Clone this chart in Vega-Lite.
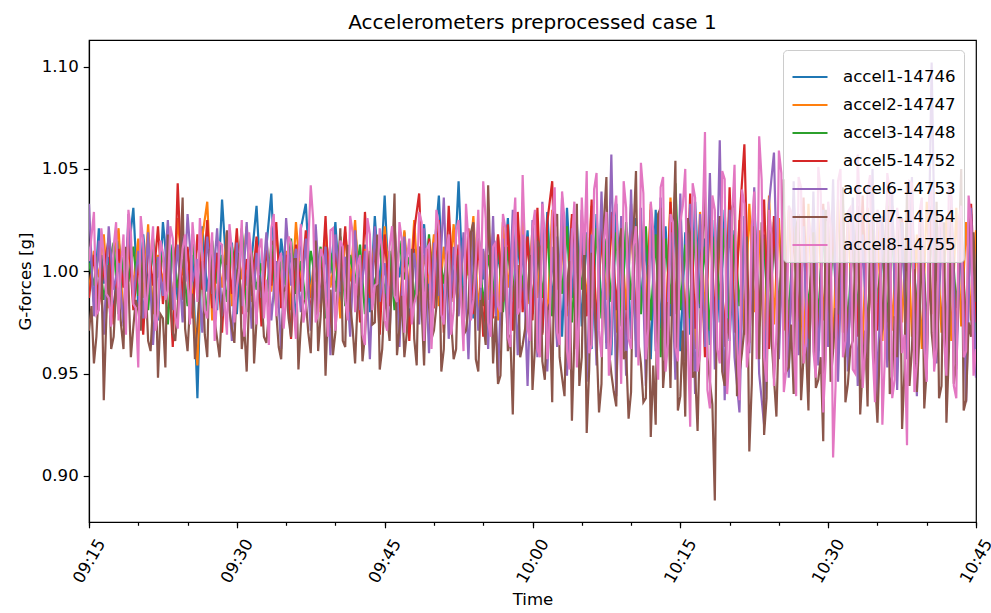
{
"$schema": "https://vega.github.io/schema/vega-lite/v6.json",
"width": 887, "height": 482,
"autosize": {"type": "none"},
"padding": {"left": 89, "top": 40, "right": 15, "bottom": 91},
"background": "white",
"title": {"text": "Accelerometers preprocessed case 1", "font": "DejaVu Sans", "fontSize": 20, "fontWeight": "normal", "color": "black", "offset": 7},
"config": {"view": {"stroke": "black", "strokeWidth": 1.2}, "font": "DejaVu Sans"},
"datasets": {
"main": [
{"t":"2024-01-01T09:15:00","a":1.012,"b":0.991,"c":1.004,"d":0.987,"e":1.033,"f":0.971,"g":1.005},
{"t":"2024-01-01T09:15:30","a":0.985,"b":1.010,"c":0.993,"d":1.008,"e":0.978,"f":0.955,"g":1.029},
{"t":"2024-01-01T09:16:00","a":1.021,"b":0.997,"c":1.011,"d":0.983,"e":1.015,"f":0.992,"g":0.981},
{"t":"2024-01-01T09:16:30","a":0.994,"b":1.018,"c":0.986,"d":1.001,"e":0.969,"f":0.937,"g":1.008},
{"t":"2024-01-01T09:17:00","a":1.007,"b":0.982,"c":1.002,"d":1.016,"e":1.022,"f":1.003,"g":0.987},
{"t":"2024-01-01T09:17:30","a":0.978,"b":1.006,"c":1.014,"d":0.974,"e":0.991,"f":0.968,"g":1.012},
{"t":"2024-01-01T09:18:00","a":1.015,"b":1.021,"c":0.979,"d":1.011,"e":1.004,"f":0.989,"g":0.976},
{"t":"2024-01-01T09:18:30","a":0.997,"b":0.975,"c":1.007,"d":0.992,"e":0.973,"f":0.962,"g":1.018},
{"t":"2024-01-01T09:19:00","a":1.009,"b":1.012,"c":0.995,"d":1.019,"e":1.028,"f":0.995,"g":1.030},
{"t":"2024-01-01T09:19:30","a":1.031,"b":0.993,"c":1.012,"d":0.981,"e":0.986,"f":0.973,"g":0.984},
{"t":"2024-01-01T09:20:00","a":0.983,"b":1.016,"c":0.988,"d":1.005,"e":1.010,"f":0.981,"g":0.953},
{"t":"2024-01-01T09:20:30","a":1.018,"b":0.987,"c":1.005,"d":0.969,"e":0.977,"f":1.012,"g":1.014},
{"t":"2024-01-01T09:21:00","a":0.992,"b":1.023,"c":0.981,"d":1.014,"e":1.019,"f":0.966,"g":0.993},
{"t":"2024-01-01T09:21:30","a":1.010,"b":0.979,"c":1.016,"d":0.993,"e":0.964,"f":0.985,"g":1.022},
{"t":"2024-01-01T09:22:00","a":0.976,"b":1.008,"c":0.997,"d":1.022,"e":1.007,"f":0.948,"g":0.979},
{"t":"2024-01-01T09:22:30","a":1.024,"b":0.995,"c":1.009,"d":0.984,"e":0.988,"f":0.977,"g":1.009},
{"t":"2024-01-01T09:23:00","a":0.999,"b":1.014,"c":0.974,"d":1.010,"e":1.025,"f":1.018,"g":0.991},
{"t":"2024-01-01T09:23:30","a":1.013,"b":0.984,"c":1.013,"d":0.963,"e":0.981,"f":0.970,"g":1.016},
{"t":"2024-01-01T09:24:00","a":0.986,"b":1.026,"c":0.992,"d":1.043,"e":1.013,"f":0.983,"g":0.972},
{"t":"2024-01-01T09:24:30","a":1.017,"b":0.998,"c":1.006,"d":0.986,"e":0.975,"f":1.036,"g":1.011},
{"t":"2024-01-01T09:25:00","a":0.995,"b":1.011,"c":0.983,"d":1.012,"e":1.028,"f":0.961,"g":0.995},
{"t":"2024-01-01T09:25:30","a":1.008,"b":0.988,"c":1.018,"d":0.977,"e":0.995,"f":0.989,"g":1.024},
{"t":"2024-01-01T09:26:00","a":0.938,"b":0.954,"c":0.989,"d":1.018,"e":1.006,"f":0.974,"g":0.985},
{"t":"2024-01-01T09:26:30","a":1.022,"b":1.017,"c":1.003,"d":0.991,"e":0.970,"f":1.005,"g":1.006},
{"t":"2024-01-01T09:27:00","a":0.990,"b":1.034,"c":0.978,"d":1.025,"e":1.017,"f":0.958,"g":0.977},
{"t":"2024-01-01T09:27:30","a":1.011,"b":0.976,"c":1.015,"d":0.982,"e":0.989,"f":0.992,"g":1.019},
{"t":"2024-01-01T09:28:00","a":0.981,"b":1.009,"c":0.994,"d":1.009,"e":1.021,"f":0.967,"g":0.988},
{"t":"2024-01-01T09:28:30","a":1.035,"b":0.992,"c":1.008,"d":0.970,"e":0.978,"f":0.984,"g":1.013},
{"t":"2024-01-01T09:29:00","a":0.997,"b":1.019,"c":0.985,"d":1.015,"e":1.003,"f":1.020,"g":0.969},
{"t":"2024-01-01T09:29:30","a":1.014,"b":0.983,"c":1.012,"d":0.989,"e":0.966,"f":0.972,"g":1.010},
{"t":"2024-01-01T09:30:00","a":0.979,"b":1.013,"c":0.996,"d":1.021,"e":1.014,"f":0.995,"g":0.992},
{"t":"2024-01-01T09:30:30","a":1.019,"b":0.996,"c":1.021,"d":0.979,"e":0.983,"f":0.962,"g":1.025},
{"t":"2024-01-01T09:31:00","a":0.993,"b":1.022,"c":0.980,"d":1.006,"e":1.024,"f":0.951,"g":0.983},
{"t":"2024-01-01T09:31:30","a":1.006,"b":0.985,"c":1.010,"d":0.988,"e":0.972,"f":1.009,"g":1.007},
{"t":"2024-01-01T09:32:00","a":1.032,"b":1.007,"c":0.991,"d":1.017,"e":1.009,"f":0.976,"g":0.974},
{"t":"2024-01-01T09:32:30","a":0.987,"b":0.979,"c":1.004,"d":0.973,"e":0.987,"f":0.990,"g":1.016},
{"t":"2024-01-01T09:33:00","a":1.012,"b":1.015,"c":0.987,"d":1.011,"e":1.019,"f":0.965,"g":0.996},
{"t":"2024-01-01T09:33:30","a":1.038,"b":0.990,"c":1.013,"d":0.993,"e":0.976,"f":1.013,"g":1.021},
{"t":"2024-01-01T09:34:00","a":0.984,"b":1.020,"c":0.982,"d":1.024,"e":1.005,"f":0.980,"g":0.978},
{"t":"2024-01-01T09:34:30","a":1.016,"b":0.986,"c":1.007,"d":0.982,"e":0.962,"f":0.957,"g":1.009},
{"t":"2024-01-01T09:35:00","a":0.996,"b":1.010,"c":0.993,"d":1.008,"e":1.026,"f":0.993,"g":0.987},
{"t":"2024-01-01T09:35:30","a":1.009,"b":0.981,"c":1.016,"d":0.967,"e":0.993,"f":0.968,"g":1.014},
{"t":"2024-01-01T09:36:00","a":0.975,"b":1.024,"c":0.989,"d":1.013,"e":1.011,"f":1.006,"g":0.967},
{"t":"2024-01-01T09:36:30","a":1.021,"b":0.994,"c":1.005,"d":0.990,"e":0.980,"f":0.974,"g":1.023},
{"t":"2024-01-01T09:37:00","a":1.033,"b":1.012,"c":0.984,"d":1.020,"e":1.016,"f":0.986,"g":0.982},
{"t":"2024-01-01T09:37:30","a":0.988,"b":0.987,"c":1.010,"d":0.976,"e":0.971,"f":0.960,"g":1.042},
{"t":"2024-01-01T09:38:00","a":1.010,"b":1.016,"c":0.995,"d":1.014,"e":1.023,"f":1.015,"g":0.975},
{"t":"2024-01-01T09:38:30","a":0.982,"b":0.980,"c":1.012,"d":0.985,"e":0.984,"f":0.978,"g":1.011},
{"t":"2024-01-01T09:39:00","a":1.017,"b":1.021,"c":0.977,"d":1.027,"e":1.012,"f":0.949,"g":0.990},
{"t":"2024-01-01T09:39:30","a":0.999,"b":0.992,"c":1.009,"d":0.972,"e":0.959,"f":0.991,"g":1.020},
{"t":"2024-01-01T09:40:00","a":1.024,"b":1.009,"c":0.990,"d":1.010,"e":1.018,"f":0.970,"g":0.971},
{"t":"2024-01-01T09:40:30","a":0.985,"b":0.977,"c":1.017,"d":0.994,"e":0.990,"f":1.021,"g":1.015},
{"t":"2024-01-01T09:41:00","a":1.007,"b":1.019,"c":0.983,"d":1.022,"e":1.007,"f":0.963,"g":0.986},
{"t":"2024-01-01T09:41:30","a":0.978,"b":0.995,"c":1.008,"d":0.980,"e":0.968,"f":0.984,"g":1.027},
{"t":"2024-01-01T09:42:00","a":1.020,"b":1.025,"c":0.994,"d":1.016,"e":1.020,"f":0.955,"g":0.980},
{"t":"2024-01-01T09:42:30","a":0.994,"b":0.984,"c":1.013,"d":0.975,"e":0.981,"f":0.997,"g":1.008},
{"t":"2024-01-01T09:43:00","a":1.013,"b":1.011,"c":0.979,"d":1.029,"e":1.010,"f":0.969,"g":0.964},
{"t":"2024-01-01T09:43:30","a":0.980,"b":0.989,"c":1.006,"d":0.987,"e":0.957,"f":1.010,"g":1.018},
{"t":"2024-01-01T09:44:00","a":1.027,"b":1.017,"c":0.992,"d":1.012,"e":1.022,"f":0.975,"g":0.993},
{"t":"2024-01-01T09:44:30","a":0.991,"b":0.978,"c":1.014,"d":0.969,"e":0.985,"f":0.952,"g":1.021},
{"t":"2024-01-01T09:45:00","a":1.037,"b":1.022,"c":0.988,"d":1.018,"e":1.004,"f":0.989,"g":0.976},
{"t":"2024-01-01T09:45:30","a":0.983,"b":0.993,"c":1.010,"d":0.983,"e":0.970,"f":0.966,"g":1.012},
{"t":"2024-01-01T09:46:00","a":1.015,"b":1.014,"c":0.981,"d":1.023,"e":1.025,"f":1.038,"g":0.988},
{"t":"2024-01-01T09:46:30","a":0.997,"b":0.976,"c":1.015,"d":0.977,"e":0.963,"f":0.972,"g":1.024},
{"t":"2024-01-01T09:47:00","a":1.019,"b":1.020,"c":0.996,"d":1.011,"e":1.017,"f":0.958,"g":0.970},
{"t":"2024-01-01T09:47:30","a":0.972,"b":0.988,"c":1.007,"d":0.966,"e":0.982,"f":0.995,"g":1.016},
{"t":"2024-01-01T09:48:00","a":1.011,"b":1.025,"c":0.985,"d":1.020,"e":1.009,"f":0.967,"g":0.984},
{"t":"2024-01-01T09:48:30","a":0.990,"b":0.982,"c":1.012,"d":1.038,"e":0.974,"f":1.012,"g":1.029},
{"t":"2024-01-01T09:49:00","a":1.023,"b":1.008,"c":0.990,"d":0.976,"e":1.021,"f":0.954,"g":0.966},
{"t":"2024-01-01T09:49:30","a":0.986,"b":0.994,"c":1.018,"d":1.016,"e":0.960,"f":0.983,"g":1.013},
{"t":"2024-01-01T09:50:00","a":1.008,"b":1.018,"c":0.982,"d":0.982,"e":1.014,"f":0.971,"g":0.991},
{"t":"2024-01-01T09:50:30","a":1.037,"b":0.983,"c":1.009,"d":1.025,"e":0.988,"f":1.017,"g":1.022},
{"t":"2024-01-01T09:51:00","a":0.979,"b":1.012,"c":0.994,"d":0.970,"e":1.036,"f":0.962,"g":0.974},
{"t":"2024-01-01T09:51:30","a":1.016,"b":0.991,"c":1.016,"d":1.032,"e":0.967,"f":0.990,"g":1.018},
{"t":"2024-01-01T09:52:00","a":0.993,"b":1.023,"c":0.987,"d":0.985,"e":1.012,"f":0.957,"g":0.981},
{"t":"2024-01-01T09:52:30","a":1.044,"b":0.979,"c":1.011,"d":1.013,"e":0.978,"f":1.008,"g":1.025},
{"t":"2024-01-01T09:53:00","a":0.984,"b":1.016,"c":0.978,"d":0.972,"e":1.019,"f":0.969,"g":0.961},
{"t":"2024-01-01T09:53:30","a":1.012,"b":0.998,"c":1.014,"d":1.021,"e":0.957,"f":0.982,"g":1.015},
{"t":"2024-01-01T09:54:00","a":0.977,"b":1.027,"c":0.991,"d":0.979,"e":1.023,"f":1.024,"g":0.986},
{"t":"2024-01-01T09:54:30","a":1.018,"b":0.981,"c":1.020,"d":1.015,"e":0.971,"f":0.951,"g":1.030},
{"t":"2024-01-01T09:55:00","a":0.996,"b":1.010,"c":0.983,"d":0.968,"e":1.011,"f":0.976,"g":1.044},
{"t":"2024-01-01T09:55:30","a":1.021,"b":0.986,"c":1.008,"d":1.026,"e":0.962,"f":1.042,"g":0.975},
{"t":"2024-01-01T09:56:00","a":0.982,"b":1.019,"c":0.989,"d":0.977,"e":1.027,"f":0.955,"g":1.012},
{"t":"2024-01-01T09:56:30","a":1.009,"b":0.976,"c":1.017,"d":1.018,"e":0.948,"f":0.945,"g":0.983},
{"t":"2024-01-01T09:57:00","a":0.990,"b":1.024,"c":0.980,"d":0.985,"e":1.016,"f":0.993,"g":1.028},
{"t":"2024-01-01T09:57:30","a":1.026,"b":0.992,"c":1.012,"d":1.023,"e":0.966,"f":0.961,"g":0.968},
{"t":"2024-01-01T09:58:00","a":0.975,"b":1.015,"c":0.986,"d":0.971,"e":1.030,"f":0.930,"g":1.017},
{"t":"2024-01-01T09:58:30","a":1.014,"b":0.980,"c":1.019,"d":1.029,"e":0.959,"f":1.003,"g":0.979},
{"t":"2024-01-01T09:59:00","a":0.988,"b":1.028,"c":0.992,"d":0.980,"e":1.018,"f":0.964,"g":1.047},
{"t":"2024-01-01T09:59:30","a":1.020,"b":0.984,"c":1.015,"d":1.017,"e":0.944,"f":0.987,"g":0.972},
{"t":"2024-01-01T10:00:00","a":0.979,"b":1.021,"c":0.984,"d":0.976,"e":1.025,"f":0.942,"g":1.021},
{"t":"2024-01-01T10:00:30","a":1.023,"b":0.987,"c":1.016,"d":1.031,"e":0.958,"f":1.015,"g":0.962},
{"t":"2024-01-01T10:01:00","a":0.970,"b":1.018,"c":0.987,"d":0.969,"e":1.034,"f":0.956,"g":1.033},
{"t":"2024-01-01T10:01:30","a":1.029,"b":0.975,"c":1.020,"d":1.024,"e":0.951,"f":0.981,"g":0.957},
{"t":"2024-01-01T10:02:00","a":0.984,"b":1.030,"c":0.978,"d":1.044,"e":1.012,"f":0.936,"g":1.026},
{"t":"2024-01-01T10:02:30","a":1.017,"b":0.991,"c":1.012,"d":0.966,"e":0.963,"f":1.028,"g":0.970},
{"t":"2024-01-01T10:03:00","a":0.968,"b":1.014,"c":0.989,"d":1.019,"e":1.036,"f":0.948,"g":1.039},
{"t":"2024-01-01T10:03:30","a":1.031,"b":0.978,"c":1.022,"d":0.983,"e":0.949,"f":0.992,"g":0.961},
{"t":"2024-01-01T10:04:00","a":0.987,"b":1.026,"c":0.975,"d":1.028,"e":1.021,"f":0.927,"g":1.015},
{"t":"2024-01-01T10:04:30","a":1.024,"b":0.969,"c":1.014,"d":0.962,"e":0.970,"f":1.033,"g":0.953},
{"t":"2024-01-01T10:05:00","a":0.973,"b":1.020,"c":0.991,"d":1.015,"e":1.030,"f":0.958,"g":1.036},
{"t":"2024-01-01T10:05:30","a":1.019,"b":0.984,"c":1.018,"d":0.978,"e":0.946,"f":0.921,"g":1.049},
{"t":"2024-01-01T10:06:00","a":0.962,"b":1.032,"c":0.982,"d":1.035,"e":1.018,"f":1.009,"g":0.964},
{"t":"2024-01-01T10:06:30","a":1.028,"b":0.973,"c":1.021,"d":0.971,"e":0.954,"f":0.966,"g":1.048},
{"t":"2024-01-01T10:07:00","a":0.981,"b":1.017,"c":0.977,"d":1.022,"e":1.039,"f":0.945,"g":0.958},
{"t":"2024-01-01T10:07:30","a":1.015,"b":0.986,"c":1.016,"d":0.965,"e":0.962,"f":1.046,"g":1.029},
{"t":"2024-01-01T10:08:00","a":0.959,"b":1.027,"c":0.985,"d":1.029,"e":1.057,"f":0.950,"g":0.968},
{"t":"2024-01-01T10:08:30","a":1.033,"b":0.970,"c":1.019,"d":0.981,"e":0.939,"f":0.934,"g":1.037},
{"t":"2024-01-01T10:09:00","a":0.976,"b":1.021,"c":0.973,"d":1.018,"e":1.027,"f":1.021,"g":0.945},
{"t":"2024-01-01T10:09:30","a":1.021,"b":0.981,"c":1.024,"d":0.963,"e":0.949,"f":0.961,"g":1.031},
{"t":"2024-01-01T10:10:00","a":0.967,"b":1.029,"c":0.986,"d":1.033,"e":1.040,"f":0.941,"g":0.962},
{"t":"2024-01-01T10:10:30","a":1.026,"b":0.966,"c":1.015,"d":0.973,"e":0.958,"f":1.049,"g":1.022},
{"t":"2024-01-01T10:11:00","a":0.984,"b":1.016,"c":0.979,"d":1.025,"e":1.031,"f":0.955,"g":1.053},
{"t":"2024-01-01T10:11:30","a":1.014,"b":0.979,"c":1.022,"d":0.968,"e":0.944,"f":0.938,"g":0.957},
{"t":"2024-01-01T10:12:00","a":0.957,"b":1.033,"c":0.976,"d":1.030,"e":1.024,"f":0.919,"g":1.034},
{"t":"2024-01-01T10:12:30","a":1.030,"b":0.975,"c":1.018,"d":0.976,"e":0.961,"f":0.925,"g":0.966},
{"t":"2024-01-01T10:13:00","a":0.972,"b":1.020,"c":0.958,"d":1.021,"e":1.036,"f":1.031,"g":1.041},
{"t":"2024-01-01T10:13:30","a":1.022,"b":0.968,"c":1.016,"d":0.961,"e":0.953,"f":0.960,"g":0.951},
{"t":"2024-01-01T10:14:00","a":0.978,"b":1.036,"c":0.984,"d":1.034,"e":1.019,"f":0.943,"g":1.028},
{"t":"2024-01-01T10:14:30","a":1.029,"b":0.983,"c":1.043,"d":0.979,"e":0.947,"f":1.054,"g":0.963},
{"t":"2024-01-01T10:15:00","a":0.961,"b":1.024,"c":0.981,"d":1.027,"e":1.038,"f":0.939,"g":1.024},
{"t":"2024-01-01T10:15:30","a":1.019,"b":0.974,"c":1.013,"d":0.966,"e":0.956,"f":0.929,"g":1.050},
{"t":"2024-01-01T10:16:00","a":0.969,"b":1.022,"c":0.977,"d":1.038,"e":1.033,"f":1.018,"g":0.924},
{"t":"2024-01-01T10:16:30","a":1.034,"b":0.962,"c":1.020,"d":0.972,"e":0.940,"f":0.951,"g":1.036},
{"t":"2024-01-01T10:17:00","a":0.982,"b":1.029,"c":0.984,"d":1.023,"e":1.028,"f":0.972,"g":0.959},
{"t":"2024-01-01T10:17:30","a":1.016,"b":0.978,"c":1.012,"d":0.958,"e":0.963,"f":1.039,"g":1.068},
{"t":"2024-01-01T10:18:00","a":0.964,"b":1.031,"c":0.971,"d":1.032,"e":1.048,"f":0.946,"g":0.933},
{"t":"2024-01-01T10:18:30","a":1.025,"b":0.970,"c":1.017,"d":0.975,"e":0.952,"f":0.888,"g":1.030},
{"t":"2024-01-01T10:19:00","a":0.975,"b":1.018,"c":0.986,"d":1.026,"e":1.064,"f":1.027,"g":0.955},
{"t":"2024-01-01T10:19:30","a":1.030,"b":0.965,"c":1.021,"d":0.963,"e":0.937,"f":0.944,"g":1.045},
{"t":"2024-01-01T10:20:00","a":0.966,"b":1.034,"c":0.975,"d":1.041,"e":1.030,"f":0.967,"g":0.962},
{"t":"2024-01-01T10:20:30","a":1.020,"b":0.976,"c":1.018,"d":0.970,"e":0.958,"f":1.035,"g":1.052},
{"t":"2024-01-01T10:21:00","a":0.955,"b":1.025,"c":0.983,"d":1.024,"e":0.931,"f":0.950,"g":0.937},
{"t":"2024-01-01T10:21:30","a":1.027,"b":0.969,"c":1.015,"d":1.062,"e":1.026,"f":0.972,"g":1.033},
{"t":"2024-01-01T10:22:00","a":0.972,"b":1.033,"c":0.974,"d":0.965,"e":0.960,"f":0.912,"g":0.966},
{"t":"2024-01-01T10:22:30","a":1.032,"b":0.980,"c":1.023,"d":1.029,"e":1.041,"f":1.022,"g":1.039},
{"t":"2024-01-01T10:23:00","a":0.978,"b":1.020,"c":0.980,"d":0.973,"e":0.950,"f":0.957,"g":1.066},
{"t":"2024-01-01T10:23:30","a":1.018,"b":0.963,"c":1.016,"d":1.035,"e":0.925,"f":0.920,"g":0.958},
{"t":"2024-01-01T10:24:00","a":0.963,"b":1.037,"c":0.968,"d":0.962,"e":1.033,"f":1.030,"g":1.030},
{"t":"2024-01-01T10:24:30","a":1.024,"b":0.974,"c":1.020,"d":1.027,"e":1.058,"f":0.948,"g":0.944},
{"t":"2024-01-01T10:25:00","a":0.970,"b":1.026,"c":0.982,"d":0.969,"e":0.957,"f":0.975,"g":1.059},
{"t":"2024-01-01T10:25:30","a":1.028,"b":0.971,"c":1.017,"d":1.031,"e":1.029,"f":1.045,"g":0.941},
{"t":"2024-01-01T10:26:00","a":0.959,"b":1.030,"c":0.976,"d":0.959,"e":0.948,"f":0.953,"g":1.032},
{"t":"2024-01-01T10:26:30","a":1.035,"b":0.979,"c":1.022,"d":1.022,"e":1.044,"f":0.940,"g":0.964},
{"t":"2024-01-01T10:27:00","a":0.974,"b":1.019,"c":0.969,"d":0.974,"e":0.959,"f":1.028,"g":1.046},
{"t":"2024-01-01T10:27:30","a":1.022,"b":0.955,"c":1.018,"d":1.036,"e":1.022,"f":0.958,"g":0.955},
{"t":"2024-01-01T10:28:00","a":0.951,"b":1.033,"c":0.981,"d":0.967,"e":0.941,"f":0.932,"g":1.027},
{"t":"2024-01-01T10:28:30","a":1.026,"b":0.968,"c":1.013,"d":1.028,"e":1.039,"f":1.019,"g":0.961},
{"t":"2024-01-01T10:29:00","a":0.968,"b":1.027,"c":0.977,"d":0.961,"e":0.954,"f":0.947,"g":1.051},
{"t":"2024-01-01T10:29:30","a":1.031,"b":0.976,"c":1.021,"d":1.033,"e":1.030,"f":0.917,"g":0.931},
{"t":"2024-01-01T10:30:00","a":0.976,"b":1.022,"c":0.970,"d":0.971,"e":0.963,"f":1.024,"g":1.034},
{"t":"2024-01-01T10:30:30","a":1.019,"b":0.962,"c":1.019,"d":1.025,"e":1.045,"f":0.961,"g":0.909},
{"t":"2024-01-01T10:31:00","a":0.965,"b":1.035,"c":0.983,"d":0.964,"e":0.946,"f":0.979,"g":1.044},
{"t":"2024-01-01T10:31:30","a":1.033,"b":0.970,"c":1.015,"d":1.030,"e":1.027,"f":1.041,"g":0.958},
{"t":"2024-01-01T10:32:00","a":0.958,"b":1.028,"c":0.972,"d":0.958,"e":0.951,"f":0.945,"g":1.029},
{"t":"2024-01-01T10:32:30","a":1.025,"b":0.973,"c":1.020,"d":1.024,"e":1.036,"f":0.966,"g":0.952},
{"t":"2024-01-01T10:33:00","a":0.971,"b":1.019,"c":0.979,"d":0.968,"e":0.944,"f":1.032,"g":1.057},
{"t":"2024-01-01T10:33:30","a":1.021,"b":0.964,"c":1.024,"d":1.037,"e":1.018,"f":0.953,"g":0.943},
{"t":"2024-01-01T10:34:00","a":0.962,"b":1.031,"c":0.971,"d":0.960,"e":0.958,"f":0.934,"g":1.039},
{"t":"2024-01-01T10:34:30","a":1.030,"b":0.977,"c":1.016,"d":1.029,"e":1.050,"f":1.020,"g":0.962},
{"t":"2024-01-01T10:35:00","a":0.973,"b":1.024,"c":0.985,"d":0.971,"e":0.938,"f":0.926,"g":1.030},
{"t":"2024-01-01T10:35:30","a":1.018,"b":0.966,"c":1.012,"d":1.023,"e":1.027,"f":0.972,"g":0.925},
{"t":"2024-01-01T10:36:00","a":0.956,"b":1.032,"c":0.975,"d":0.957,"e":0.953,"f":1.037,"g":1.048},
{"t":"2024-01-01T10:36:30","a":1.027,"b":0.971,"c":1.022,"d":1.032,"e":1.039,"f":0.949,"g":0.938},
{"t":"2024-01-01T10:37:00","a":0.969,"b":1.021,"c":0.963,"d":0.966,"e":0.942,"f":0.958,"g":1.031},
{"t":"2024-01-01T10:37:30","a":1.024,"b":0.975,"c":1.018,"d":1.026,"e":1.024,"f":0.923,"g":0.960},
{"t":"2024-01-01T10:38:00","a":0.961,"b":1.029,"c":0.978,"d":0.963,"e":0.957,"f":1.043,"g":0.915},
{"t":"2024-01-01T10:38:30","a":1.029,"b":0.968,"c":1.014,"d":1.034,"e":1.046,"f":0.962,"g":1.043},
{"t":"2024-01-01T10:39:00","a":0.975,"b":1.018,"c":0.981,"d":0.969,"e":0.939,"f":0.941,"g":0.955},
{"t":"2024-01-01T10:39:30","a":1.016,"b":0.962,"c":1.021,"d":1.028,"e":1.030,"f":1.026,"g":1.036},
{"t":"2024-01-01T10:40:00","a":0.967,"b":1.034,"c":0.973,"d":0.961,"e":0.950,"f":0.952,"g":0.946},
{"t":"2024-01-01T10:40:30","a":1.032,"b":0.979,"c":1.019,"d":1.031,"e":1.102,"f":0.970,"g":1.040},
{"t":"2024-01-01T10:41:00","a":0.958,"b":1.023,"c":0.976,"d":0.967,"e":0.955,"f":1.034,"g":0.963},
{"t":"2024-01-01T10:41:30","a":1.023,"b":0.970,"c":1.015,"d":1.025,"e":1.022,"f":0.944,"g":1.028},
{"t":"2024-01-01T10:42:00","a":0.970,"b":1.027,"c":0.968,"d":0.959,"e":0.946,"f":0.926,"g":0.949},
{"t":"2024-01-01T10:42:30","a":1.026,"b":0.966,"c":1.020,"d":1.030,"e":1.037,"f":1.031,"g":1.035},
{"t":"2024-01-01T10:43:00","a":0.963,"b":1.031,"c":0.982,"d":0.965,"e":0.952,"f":0.955,"g":0.938},
{"t":"2024-01-01T10:43:30","a":1.019,"b":0.973,"c":1.017,"d":1.027,"e":1.026,"f":1.050,"g":1.032},
{"t":"2024-01-01T10:44:00","a":0.957,"b":1.024,"c":0.974,"d":0.962,"e":0.936,"f":0.937,"g":0.961},
{"t":"2024-01-01T10:44:30","a":1.028,"b":0.976,"c":1.016,"d":1.033,"e":1.031,"f":0.968,"g":1.024},
{"t":"2024-01-01T10:45:00","a":0.961,"b":1.020,"c":0.970,"d":0.975,"e":0.948,"f":0.985,"g":0.962},
{"t":"2024-01-01T09:15:15","f":0.983,"g":1.017},{"t":"2024-01-01T09:15:45","f":0.968,"g":0.979},
{"t":"2024-01-01T09:16:15","f":1.008,"g":1.021},{"t":"2024-01-01T09:16:45","f":0.976,"g":0.989},
{"t":"2024-01-01T09:17:15","f":0.962,"g":0.973},{"t":"2024-01-01T09:17:45","f":0.991,"g":1.024},
{"t":"2024-01-01T09:18:15","f":0.974,"g":1.003},{"t":"2024-01-01T09:18:45","f":1.012,"g":0.969},
{"t":"2024-01-01T09:19:15","f":0.958,"g":1.019},{"t":"2024-01-01T09:19:45","f":0.986,"g":0.982},
{"t":"2024-01-01T09:20:15","f":0.971,"g":1.027},{"t":"2024-01-01T09:20:45","f":0.995,"g":0.977},
{"t":"2024-01-01T09:21:15","f":0.961,"g":1.006},{"t":"2024-01-01T09:21:45","f":1.004,"g":0.971},
{"t":"2024-01-01T09:22:15","f":0.979,"g":1.015},{"t":"2024-01-01T09:22:45","f":0.953,"g":0.986},
{"t":"2024-01-01T09:23:15","f":0.989,"g":1.022},{"t":"2024-01-01T09:23:45","f":0.966,"g":0.978},
{"t":"2024-01-01T09:24:15","f":1.006,"g":0.997},{"t":"2024-01-01T09:24:45","f":0.972,"g":1.018},
{"t":"2024-01-01T09:25:15","f":0.984,"g":0.974},{"t":"2024-01-01T09:25:45","f":0.957,"g":1.009},
{"t":"2024-01-01T09:26:15","f":0.992,"g":1.026},{"t":"2024-01-01T09:26:45","f":0.969,"g":0.981},
{"t":"2024-01-01T09:27:15","f":1.011,"g":1.004},{"t":"2024-01-01T09:27:45","f":0.976,"g":0.966},
{"t":"2024-01-01T09:28:15","f":0.958,"g":1.014},{"t":"2024-01-01T09:28:45","f":0.994,"g":0.985},
{"t":"2024-01-01T09:29:15","f":0.981,"g":1.023},{"t":"2024-01-01T09:29:45","f":0.965,"g":0.975},
{"t":"2024-01-01T09:30:15","f":1.009,"g":1.001},{"t":"2024-01-01T09:30:45","f":0.973,"g":0.968},
{"t":"2024-01-01T09:31:15","f":0.987,"g":1.019},{"t":"2024-01-01T09:31:45","f":0.955,"g":0.990},
{"t":"2024-01-01T09:32:15","f":0.998,"g":1.011},{"t":"2024-01-01T09:32:45","f":0.968,"g":0.977},
{"t":"2024-01-01T09:33:15","f":0.979,"g":0.964},{"t":"2024-01-01T09:33:45","f":1.015,"g":1.028},
{"t":"2024-01-01T09:34:15","f":0.963,"g":1.004},{"t":"2024-01-01T09:34:45","f":0.990,"g":0.972},
{"t":"2024-01-01T09:35:15","f":0.977,"g":1.017},{"t":"2024-01-01T09:35:45","f":1.006,"g":0.983},
{"t":"2024-01-01T09:36:15","f":0.952,"g":1.008},{"t":"2024-01-01T09:36:45","f":0.985,"g":0.975},
{"t":"2024-01-01T09:37:15","f":0.970,"g":1.013},{"t":"2024-01-01T09:37:45","f":0.996,"g":1.025},
{"t":"2024-01-01T09:38:15","f":0.961,"g":0.979},{"t":"2024-01-01T09:38:45","f":1.002,"g":1.007},
{"t":"2024-01-01T09:39:15","f":0.983,"g":0.968},{"t":"2024-01-01T09:39:45","f":0.959,"g":1.021},
{"t":"2024-01-01T09:40:15","f":0.994,"g":0.988},{"t":"2024-01-01T09:40:45","f":0.966,"g":1.012},
{"t":"2024-01-01T09:41:15","f":1.013,"g":0.976},{"t":"2024-01-01T09:41:45","f":0.972,"g":1.019},
{"t":"2024-01-01T09:42:15","f":0.985,"g":1.003},{"t":"2024-01-01T09:42:45","f":0.956,"g":0.969},
{"t":"2024-01-01T09:43:15","f":0.991,"g":1.026},{"t":"2024-01-01T09:43:45","f":0.974,"g":0.981},
{"t":"2024-01-01T09:44:15","f":1.018,"g":0.994},{"t":"2024-01-01T09:44:45","f":0.962,"g":1.010},
{"t":"2024-01-01T09:45:15","f":0.978,"g":0.971},{"t":"2024-01-01T09:45:45","f":1.003,"g":1.022},
{"t":"2024-01-01T09:46:15","f":0.959,"g":0.985},{"t":"2024-01-01T09:46:45","f":0.988,"g":1.015},
{"t":"2024-01-01T09:47:15","f":0.970,"g":1.006},{"t":"2024-01-01T09:47:45","f":1.011,"g":0.974},
{"t":"2024-01-01T09:48:15","f":0.954,"g":0.989},{"t":"2024-01-01T09:48:45","f":0.982,"g":1.024},
{"t":"2024-01-01T09:49:15","f":0.997,"g":1.011},{"t":"2024-01-01T09:49:45","f":0.967,"g":0.962},
{"t":"2024-01-01T09:50:15","f":0.983,"g":1.030},{"t":"2024-01-01T09:50:45","f":0.951,"g":0.979},
{"t":"2024-01-01T09:51:15","f":1.009,"g":1.008},{"t":"2024-01-01T09:51:45","f":0.975,"g":0.969},
{"t":"2024-01-01T09:52:15","f":0.962,"g":1.020},{"t":"2024-01-01T09:52:45","f":0.993,"g":0.987},
{"t":"2024-01-01T09:53:15","f":0.971,"g":1.033},{"t":"2024-01-01T09:53:45","f":1.019,"g":0.976},
{"t":"2024-01-01T09:54:15","f":0.957,"g":1.005},{"t":"2024-01-01T09:54:45","f":0.986,"g":0.992},
{"t":"2024-01-01T09:55:15","f":0.964,"g":1.026},{"t":"2024-01-01T09:55:45","f":1.001,"g":0.968},
{"t":"2024-01-01T09:56:15","f":0.978,"g":1.014},{"t":"2024-01-01T09:56:45","f":0.949,"g":0.980},
{"t":"2024-01-01T09:57:15","f":1.012,"g":1.021},{"t":"2024-01-01T09:57:45","f":0.969,"g":0.963},
{"t":"2024-01-01T09:58:15","f":0.990,"g":1.036},{"t":"2024-01-01T09:58:45","f":0.958,"g":0.982},
{"t":"2024-01-01T09:59:15","f":0.972,"g":1.009},{"t":"2024-01-01T09:59:45","f":1.008,"g":0.966},
{"t":"2024-01-01T10:00:15","f":0.963,"g":1.030},{"t":"2024-01-01T10:00:45","f":1.012,"g":0.958},
{"t":"2024-01-01T10:01:15","f":0.947,"g":1.018},{"t":"2024-01-01T10:01:45","f":0.984,"g":0.975},
{"t":"2024-01-01T10:02:15","f":1.021,"g":1.041},{"t":"2024-01-01T10:02:45","f":0.958,"g":0.964},
{"t":"2024-01-01T10:03:15","f":0.939,"g":1.025},{"t":"2024-01-01T10:03:45","f":1.005,"g":0.952},
{"t":"2024-01-01T10:04:15","f":0.968,"g":1.034},{"t":"2024-01-01T10:04:45","f":0.944,"g":0.979},
{"t":"2024-01-01T10:05:15","f":1.017,"g":1.008},{"t":"2024-01-01T10:05:45","f":0.952,"g":0.960},
{"t":"2024-01-01T10:06:15","f":0.986,"g":1.040},{"t":"2024-01-01T10:06:45","f":0.931,"g":0.971},
{"t":"2024-01-01T10:07:15","f":1.025,"g":1.015},{"t":"2024-01-01T10:07:45","f":0.962,"g":0.949},
{"t":"2024-01-01T10:08:15","f":0.941,"g":1.027},{"t":"2024-01-01T10:08:45","f":1.010,"g":0.986},
{"t":"2024-01-01T10:09:15","f":0.957,"g":1.044},{"t":"2024-01-01T10:09:45","f":0.928,"g":0.967},
{"t":"2024-01-01T10:10:15","f":1.019,"g":1.012},{"t":"2024-01-01T10:10:45","f":0.965,"g":0.954},
{"t":"2024-01-01T10:11:15","f":0.936,"g":1.038},{"t":"2024-01-01T10:11:45","f":1.003,"g":0.972},
{"t":"2024-01-01T10:12:15","f":0.954,"g":1.020},{"t":"2024-01-01T10:12:45","f":1.028,"g":0.947},
{"t":"2024-01-01T10:13:15","f":0.943,"g":1.046},{"t":"2024-01-01T10:13:45","f":0.985,"g":0.965},
{"t":"2024-01-01T10:14:15","f":1.012,"g":1.024},{"t":"2024-01-01T10:14:45","f":0.932,"g":0.956},
{"t":"2024-01-01T10:15:15","f":0.971,"g":1.032},{"t":"2024-01-01T10:15:45","f":1.026,"g":0.968},
{"t":"2024-01-01T10:16:15","f":0.948,"g":1.043},{"t":"2024-01-01T10:16:45","f":0.922,"g":0.951},
{"t":"2024-01-01T10:17:15","f":1.015,"g":1.019},{"t":"2024-01-01T10:17:45","f":0.958,"g":0.942},
{"t":"2024-01-01T10:18:15","f":0.935,"g":1.037},{"t":"2024-01-01T10:18:45","f":1.008,"g":0.962},
{"t":"2024-01-01T10:19:15","f":0.951,"g":1.049},{"t":"2024-01-01T10:19:45","f":0.977,"g":0.940},
{"t":"2024-01-01T10:20:15","f":1.031,"g":1.026},{"t":"2024-01-01T10:20:45","f":0.939,"g":0.968},
{"t":"2024-01-01T10:21:15","f":0.960,"g":1.040},{"t":"2024-01-01T10:21:45","f":1.017,"g":0.953},
{"t":"2024-01-01T10:22:15","f":0.945,"g":1.022},{"t":"2024-01-01T10:22:45","f":0.984,"g":0.957},
{"t":"2024-01-01T10:23:15","f":1.024,"g":1.045},{"t":"2024-01-01T10:23:45","f":0.938,"g":0.946},
{"t":"2024-01-01T10:24:15","f":0.967,"g":1.018},{"t":"2024-01-01T10:24:45","f":0.929,"g":0.970},
{"t":"2024-01-01T10:25:15","f":1.010,"g":1.048},{"t":"2024-01-01T10:25:45","f":0.951,"g":0.952},
{"t":"2024-01-01T10:26:15","f":0.974,"g":1.029},{"t":"2024-01-01T10:26:45","f":1.021,"g":0.939},
{"t":"2024-01-01T10:27:15","f":0.937,"g":1.041},{"t":"2024-01-01T10:27:45","f":0.963,"g":0.965},
{"t":"2024-01-01T10:28:15","f":1.005,"g":1.016},{"t":"2024-01-01T10:28:45","f":0.943,"g":0.948},
{"t":"2024-01-01T10:29:15","f":0.958,"g":1.038},{"t":"2024-01-01T10:29:45","f":1.030,"g":0.957},
{"t":"2024-01-01T10:30:15","f":0.946,"g":1.022},{"t":"2024-01-01T10:30:45","f":0.982,"g":0.944},
{"t":"2024-01-01T10:31:15","f":1.018,"g":1.050},{"t":"2024-01-01T10:31:45","f":0.936,"g":0.966},
{"t":"2024-01-01T10:32:15","f":0.962,"g":1.031},{"t":"2024-01-01T10:32:45","f":1.009,"g":0.950},
{"t":"2024-01-01T10:33:15","f":0.930,"g":1.024},{"t":"2024-01-01T10:33:45","f":0.971,"g":0.961},
{"t":"2024-01-01T10:34:15","f":1.022,"g":1.047},{"t":"2024-01-01T10:34:45","f":0.948,"g":0.936},
{"t":"2024-01-01T10:35:15","f":0.965,"g":1.026},{"t":"2024-01-01T10:35:45","f":1.013,"g":0.958},
{"t":"2024-01-01T10:36:15","f":0.940,"g":1.039},{"t":"2024-01-01T10:36:45","f":0.978,"g":0.947},
{"t":"2024-01-01T10:37:15","f":1.027,"g":1.020},{"t":"2024-01-01T10:37:45","f":0.952,"g":0.969},
{"t":"2024-01-01T10:38:15","f":0.944,"g":1.044},{"t":"2024-01-01T10:38:45","f":1.001,"g":0.941},
{"t":"2024-01-01T10:39:15","f":0.969,"g":1.028},{"t":"2024-01-01T10:39:45","f":0.933,"g":0.963},
{"t":"2024-01-01T10:40:15","f":1.016,"g":1.035},{"t":"2024-01-01T10:40:45","f":0.957,"g":0.951},
{"t":"2024-01-01T10:41:15","f":0.938,"g":1.021},{"t":"2024-01-01T10:41:45","f":1.024,"g":0.967},
{"t":"2024-01-01T10:42:15","f":0.961,"g":1.042},{"t":"2024-01-01T10:42:45","f":0.945,"g":0.944},
{"t":"2024-01-01T10:43:15","f":1.008,"g":1.025},{"t":"2024-01-01T10:43:45","f":0.932,"g":0.958},
{"t":"2024-01-01T10:44:15","f":0.975,"g":1.037},{"t":"2024-01-01T10:44:45","f":1.019,"g":0.949}
]},
"data": {"name": "main"},
"transform": [{"fold": ["a","b","c","d","e","f","g"], "as": ["k","v"]}, {"filter": "isValid(datum.v)"}],
"layer": [
{
"mark": {"type": "line", "strokeWidth": 2.2, "clip": true},
"encoding": {
  "x": {"field": "t", "type": "temporal", "scale": {"nice": false},
    "axis": {"orient": "bottom", "title": "Time", "titleFont": "DejaVu Sans", "titleFontSize": 16.6, "titleFontWeight": "normal", "titleColor": "black", "titlePadding": 6,
      "tickCount": 6, "format": "%H:%M", "tickSize": 5.8,
      "labelAngle": 300, "labelAlign": "center", "labelBaseline": "middle", "labelPadding": 33,
      "labelFont": "DejaVu Sans", "labelFontSize": 16.6, "labelColor": "black", "labelFlush": false, "labelOverlap": false,
      "grid": false, "domainColor": "black", "domainWidth": 1.2, "tickColor": "black", "tickWidth": 1.2}},
  "y": {"field": "v", "type": "quantitative", "scale": {"domain": [0.8775, 1.113], "nice": false, "zero": false},
    "axis": {"title": "G-forces [g]", "titleFont": "DejaVu Sans", "titleFontSize": 16.6, "titleFontWeight": "normal", "titleColor": "black", "titlePadding": 8,
      "values": [0.9, 0.95, 1.0, 1.05, 1.1], "format": ".2f",
      "labelFont": "DejaVu Sans", "labelFontSize": 16.6, "labelColor": "black", "labelPadding": 5, "tickSize": 5.8,
      "grid": false, "domainColor": "black", "domainWidth": 1.2, "tickColor": "black", "tickWidth": 1.2}},
  "color": {"field": "k", "type": "nominal",
    "scale": {"domain": ["a","b","c","d","e","f","g"], "range": ["#1f77b4","#ff7f0e","#2ca02c","#d62728","#9467bd","#8c564b","#e377c2"]},
    "legend": {"title": null, "orient": "none", "legendX": 694, "legendY": 10,
      "labelExpr": "datum.label == 'a' ? 'accel1-14746' : datum.label == 'b' ? 'accel2-14747' : datum.label == 'c' ? 'accel3-14748' : datum.label == 'd' ? 'accel5-14752' : datum.label == 'e' ? 'accel6-14753' : datum.label == 'f' ? 'accel7-14754' : 'accel8-14755'",
      "symbolType": "stroke", "symbolSize": 1225, "symbolStrokeWidth": 2.2,
      "labelFont": "DejaVu Sans", "labelFontSize": 16.6, "labelColor": "black", "labelOffset": 14, "labelLimit": 0,
      "fillColor": "rgba(255,255,255,0.8)", "strokeColor": "#cccccc", "cornerRadius": 4, "padding": 8, "rowPadding": -1.3}}
}
},
{
"mark": {"type": "point", "opacity": 0},
"encoding": {
  "x": {"field": "t", "type": "temporal",
    "axis": {"orient": "bottom", "title": null, "labels": false, "domain": false, "grid": false,
      "tickCount": 18, "tickSize": 3.3, "tickColor": "black", "tickWidth": 1.2}}
}
}
],
"resolve": {"axis": {"x": "independent"}}
}
